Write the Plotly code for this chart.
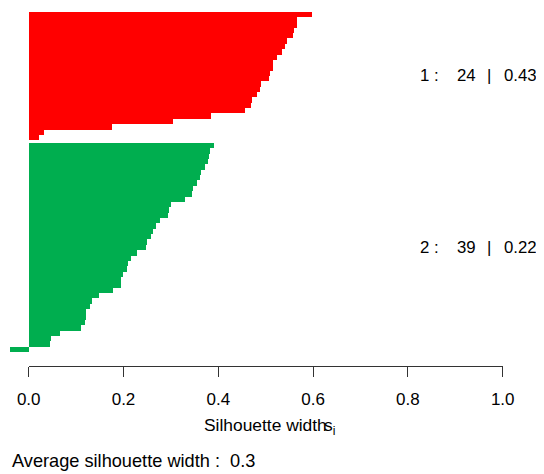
import plotly.graph_objects as go

# ---- data (silhouette widths, sorted within cluster, top to bottom) ----
cluster_ids = [1, 2]
cluster_sizes = [24, 39]
cluster_avg = [0.43, 0.22]
overall_avg = 0.3
cluster_colors = ["#FF0000", "#00AE4F"]

sil_cluster1 = [0.597, 0.567, 0.565, 0.559, 0.557, 0.544, 0.540, 0.534, 0.523,
                0.516, 0.515, 0.510, 0.506, 0.491, 0.487, 0.481, 0.472, 0.470,
                0.457, 0.384, 0.304, 0.175, 0.032, 0.021]
sil_cluster2 = [0.391, 0.382, 0.380, 0.378, 0.372, 0.363, 0.361, 0.355, 0.346,
                0.344, 0.330, 0.300, 0.296, 0.294, 0.277, 0.268, 0.262, 0.258,
                0.249, 0.247, 0.228, 0.216, 0.209, 0.207, 0.199, 0.195, 0.195,
                0.178, 0.148, 0.133, 0.129, 0.121, 0.121, 0.119, 0.110, 0.066,
                0.047, 0.045, -0.039]
x_ticks = [0.0, 0.2, 0.4, 0.6, 0.8, 1.0]
x_tick_labels = ["0.0", "0.2", "0.4", "0.6", "0.8", "1.0"]

FONT = "Liberation Sans, Arial, Helvetica, sans-serif"
FS = 17
W, H = 544, 474
OFF = 8  # page offset of the figure (body margin)

# layout geometry (pixels, page coordinates minus offset)
x0_px, x1_px = 28.7 - OFF, 502.7 - OFF   # where 0 and 1 lie
px_per_unit = x1_px - x0_px
row_px = 5.36
bottom_px = 352.0 - OFF                  # bottom edge of lowest bar
axis_px = 366.0 - OFF                    # axis line

# bar positions (bottom-up), with half-row gap between clusters
groups = [sil_cluster2, sil_cluster1]       # bottom group first
group_colors = [cluster_colors[1], cluster_colors[0]]
group_index = [1, 0]
fig = go.Figure()
pos = 0.0
centers = {}
for g, vals in enumerate(groups):
    bottom_up = list(reversed(vals))
    ys = [pos + i + 0.5 for i in range(len(bottom_up))]
    centers[group_index[g]] = pos + len(bottom_up) / 2
    fig.add_trace(go.Bar(x=bottom_up, y=ys, orientation="h", width=1.0,
                         marker=dict(color=group_colors[g], line=dict(width=0)),
                         showlegend=False, hoverinfo="x"))
    pos += len(bottom_up) + 0.5

# ranges so that the data maps to the intended pixels
xr = [-x0_px / px_per_unit, (W - x0_px) / px_per_unit]
yr = [(bottom_px - H) / row_px, bottom_px / row_px]

# dummy trace to create the visible axis subplot
fig.add_trace(go.Scatter(x=[0, 1], y=[0, 0], xaxis="x2", yaxis="y2", mode="markers",
                         marker=dict(opacity=0), showlegend=False, hoverinfo="skip"))

fig.update_layout(
    width=W, height=H,
    margin=dict(l=0, r=0, t=0, b=0, autoexpand=False),
    paper_bgcolor="white", plot_bgcolor="rgba(0,0,0,0)",
    bargap=0,
    font=dict(family=FONT, size=FS, color="black"),
    xaxis=dict(domain=[0, 1], range=xr, visible=False, fixedrange=True, automargin=False),
    yaxis=dict(domain=[0, 1], range=yr, visible=False, fixedrange=True, automargin=False),
    xaxis2=dict(domain=[x0_px / W, x1_px / W], range=[0, 1], anchor="y2",
                showline=True, linecolor="#333333", linewidth=1,
                ticks="outside", ticklen=10, tickcolor="#333333", tickwidth=1,
                tickvals=x_ticks, ticktext=x_tick_labels, showgrid=False,
                zeroline=False, tickfont=dict(size=FS, family=FONT),
                ticklabelstandoff=8, automargin=False),
    yaxis2=dict(domain=[(H - axis_px) / H, 1], range=[0, 1], visible=False,
                anchor="x2", automargin=False),
)


def px_to_x(px):
    return (px - OFF - x0_px) / px_per_unit


# cluster labels:  "k :   n  |  avg"
for k in range(len(cluster_ids)):
    pieces = [
        (f"{cluster_ids[k]}\u00a0:", 418.0, "left"),
        (f"{cluster_sizes[k]}", 455.0, "left"),
        ("|", 488.5, "center"),
        (f"{cluster_avg[k]:.2f}", 502.0, "left"),
    ]
    for txt, px, anchor in pieces:
        fig.add_annotation(x=px_to_x(px), y=centers[k], xref="x", yref="y",
                           text=txt, showarrow=False, xanchor=anchor, yanchor="middle",
                           font=dict(size=16.8, family=FONT))

# axis title: "Silhouette width" with overlapping s_i
fig.add_annotation(x=(202.0 - OFF) / W, y=(H - (425 - OFF)) / H, xref="paper", yref="paper",
                   text="Silhouette width", showarrow=False, xanchor="left",
                   yanchor="middle", font=dict(size=17.4, family=FONT))
fig.add_annotation(x=(322.0 - OFF) / W, y=(H - (426 - OFF)) / H, xref="paper", yref="paper",
                   text="s<sub>i</sub>", showarrow=False, xanchor="left",
                   yanchor="middle", font=dict(size=17.4, family=FONT))

fig.add_annotation(x=(10.0 - OFF) / W, y=(H - (461 - OFF)) / H, xref="paper", yref="paper",
                   text=f"Average silhouette width :\u00a0\u00a0{overall_avg}", showarrow=False,
                   xanchor="left", yanchor="middle", font=dict(size=18.2, family=FONT))

fig.write_html("out.html")
